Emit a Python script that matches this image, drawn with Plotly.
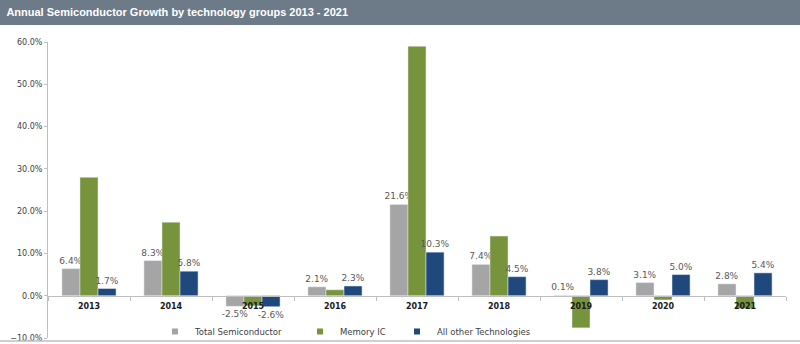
import plotly.graph_objects as go

years = ["2013", "2014", "2015", "2016", "2017", "2018", "2019", "2020", "2021"]
total_semi = [6.4, 8.3, -2.5, 2.1, 21.6, 7.4, 0.1, 3.1, 2.8]
memory_ic = [28.0, 17.4, -2.4, 1.4, 59.0, 14.1, -7.6, -1.0, -3.0]
all_other = [1.7, 5.8, -2.6, 2.3, 10.3, 4.5, 3.8, 5.0, 5.4]
series_names = ["Total Semiconductor", "Memory IC", "All other Technologies"]
colors = ["#a5a5a5", "#77933c", "#1f497d"]
title_text = "Annual Semiconductor Growth by technology groups 2013 - 2021"

W, H = 800, 344
ML, MR, MT, MB = 48, 14, 42, 6
PW, PH = W - ML - MR, H - MT - MB

lab_font = dict(family="DejaVu Sans", size=9, color="#595959")

fig = go.Figure()
fig.add_trace(go.Bar(
    x=years, y=total_semi, name=series_names[0], marker_color=colors[0],
    text=[f"{v:.1f}%" for v in total_semi], textposition="outside",
    constraintext="none", textfont=lab_font, cliponaxis=False, showlegend=False))
fig.add_trace(go.Bar(
    x=years, y=memory_ic, name=series_names[1], marker_color=colors[1],
    cliponaxis=False, showlegend=False))
fig.add_trace(go.Bar(
    x=years, y=all_other, name=series_names[2], marker_color=colors[2],
    text=[f"{v:.1f}%" for v in all_other], textposition="outside",
    constraintext="none", textfont=lab_font, cliponaxis=False, showlegend=False))

# legend entries with small square symbols, one legend box per entry
legend_ids = ["legend", "legend2", "legend3"]
legend_px = [155, 300, 397]
for name, c, lid in zip(series_names, colors, legend_ids):
    fig.add_trace(go.Scatter(x=[None], y=[None], mode="markers", name=name,
                             legend=lid,
                             marker=dict(symbol="square", size=6, color=c)))

leg_common = dict(orientation="h", y=0.022, xanchor="left", yanchor="middle",
                  font=dict(family="DejaVu Sans", size=8.5, color="#404040"),
                  bgcolor="rgba(0,0,0,0)", itemwidth=30)

# header bar
fig.add_shape(type="rect", xref="paper", yref="paper",
              x0=-ML / PW, x1=(W - ML) / PW,
              y0=1 + (MT - 25) / PH, y1=1 + MT / PH,
              fillcolor="#6d7a88", line_width=0, layer="below")
# bottom border
fig.add_shape(type="line", xref="paper", yref="paper",
              x0=-ML / PW, x1=(W - ML) / PW,
              y0=-(341 - (H - MB)) / PH, y1=-(341 - (H - MB)) / PH,
              line=dict(color="#bfbfbf", width=1.5))

fig.update_layout(
    width=W, height=H,
    margin=dict(l=ML, r=MR, t=MT, b=MB, autoexpand=False),
    paper_bgcolor="white", plot_bgcolor="white",
    barmode="group", bargap=0.34, bargroupgap=0,
    title=dict(text="<b>" + title_text + "</b>", xref="container", yref="container",
               x=0.008, xanchor="left", y=1 - 12.5 / H, yanchor="middle",
               font=dict(family="Liberation Sans", size=11, color="white")),
    showlegend=True,
    legend=dict(x=(legend_px[0] - ML) / PW, **leg_common),
    legend2=dict(x=(legend_px[1] - ML) / PW, **leg_common),
    legend3=dict(x=(legend_px[2] - ML) / PW, **leg_common),
    xaxis=dict(anchor="free", position=10 / 70, showline=True, linecolor="#bfbfbf",
               ticks="outside", ticklen=4, tickcolor="#bfbfbf", tickson="boundaries",
               tickfont=dict(family="DejaVu Sans", size=8, color="#1a1a1a"),
               showgrid=False, zeroline=False, ticklabelstandoff=3, automargin=False,
               tickprefix="<b>", ticksuffix="</b>"),
    yaxis=dict(range=[-10, 60], dtick=10, tickformat=".1f", ticksuffix="%",
               showline=True, linecolor="#bfbfbf", ticks="outside", ticklen=3,
               tickcolor="#bfbfbf", showgrid=False, zeroline=False, automargin=False,
               tickfont=dict(family="DejaVu Sans", size=8, color="#404040")),
)

fig.write_html("out.html")
